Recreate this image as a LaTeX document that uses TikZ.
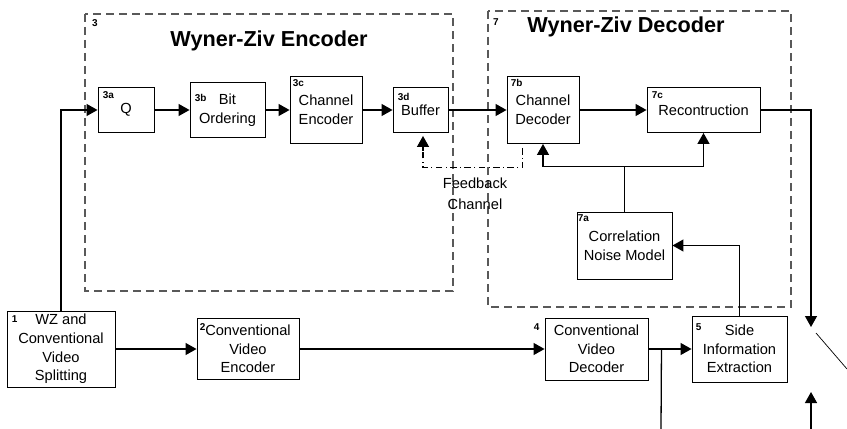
\documentclass[tikz,border=0pt]{standalone}
\usepackage{fontspec}
\setmainfont{Liberation Sans}
\usetikzlibrary{arrows.meta,calc}

\begin{document}
\begin{tikzpicture}[x=0.03cm,y=-0.03cm,
	wh/.style 2 args={minimum width=#1*0.03cm,minimum height=#2*0.03cm},
	blk/.style={draw,line width=0.8pt,align=center,inner sep=1pt,
		font=\fontsize{12.5}{16}\selectfont},
	tag/.style={anchor=north west,inner sep=0pt,font=\fontsize{8.5}{9}\selectfont\bfseries},
	ttl/.style={font=\fontsize{18.5}{20}\selectfont\bfseries},
	arr/.style={line width=1.1pt,-{Triangle[length=0.33cm,width=0.36cm]}},
	frame/.style={draw=black!65,line width=0.9pt,dash pattern=on 0.24cm off 0.15cm},
	fb/.style={line width=0.9pt,dash pattern=on 0.2cm off 0.1cm on 0.03cm off 0.1cm}]
\useasboundingbox (0,0) rectangle (847,429);
% encoder / decoder frames
\draw[frame] (85,14) rectangle (453,291);
\draw[frame] (488,11) rectangle (791,307);
\node[tag] (t3) at (92,19) {3};
\node[tag] (t7) at (493,18) {7};
\node[ttl] (enctitle) at (269,41) {Wyner-Ziv Encoder};
\node[ttl] (dectitle) at (626,27) {Wyner-Ziv Decoder};

% blocks
\node[blk,wh={108}{76}] (split) at (61,349) {WZ and\\Conventional\\Video\\Splitting};
\node[blk,wh={56}{45}] (q) at (126,110) {Q};
\node[blk,wh={75}{55}] (bitord) at (227.5,110) {Bit\\Ordering};
\node[blk,wh={72}{67}] (chenc) at (326,110) {Channel\\Encoder};
\node[blk,wh={55}{45}] (buffer) at (420.5,110) {Buffer};
\node[blk,wh={72}{67}] (chdec) at (543,110) {Channel\\Decoder};
\node[blk,wh={113}{45}] (recon) at (703.5,110) {Recontruction};
\node[blk,wh={95}{67}] (cnm) at (624.5,245.5) {Correlation\\Noise Model};
\node[blk,wh={102}{61}] (cvenc) at (248,349) {Conventional\\Video\\Encoder};
\node[blk,wh={103}{62}] (cvdec) at (596.5,349) {Conventional\\Video\\Decoder};
\node[blk,wh={95}{66}] (sie) at (739.5,349) {Side\\Information\\Extraction};

% block numbers
\node[tag] (t1) at ($(split.north west)+(5,5)$) {1};
\node[tag] (t2) at ($(cvenc.north west)+(3,5)$) {2};
\node[tag] (t3a) at ($(q.north west)+(5,4)$) {3a};
\node[tag] (t3b) at ($(bitord.north west)+(5,12)$) {3b};
\node[tag] (t3c) at ($(chenc.north west)+(3,3)$) {3c};
\node[tag] (t3d) at ($(buffer.north west)+(5,6)$) {3d};
\node[tag] (t4) at ($(cvdec.north west)+(-11,6)$) {4};
\node[tag] (t5) at ($(sie.north west)+(4,8)$) {5};
\node[tag] (t7a) at ($(cnm.north west)+(1,3)$) {7a};
\node[tag] (t7b) at ($(chdec.north west)+(4,3)$) {7b};
\node[tag] (t7c) at ($(recon.north west)+(5,4)$) {7c};

% WZ path
\draw[arr] (split.north) |- (q.west);
\draw[arr] (q) -- (bitord);
\draw[arr] (bitord) -- (chenc);
\draw[arr] (chenc) -- (buffer);
\draw[arr] (buffer) -- (chdec);
\draw[arr] (chdec) -- (recon);

% feedback (dash-dot line, solid tip)
\coordinate (fbtop) at ($(chdec.south west)+(16,4)$);
\coordinate (fbend) at ($(buffer.south)+(2.5,18)$);
\coordinate (fbtip) at ($(buffer.south)+(2.5,3)$);
\draw[fb] (fbtop) -- ++(0,20) -| (fbend);
\draw[arr] (fbend) -- (fbtip);
\node[align=center,font=\fontsize{12.5}{18}\selectfont] (fblabel) at (475,194) {Feedback\\Channel};

% side information
\coordinate (junc) at ($(cnm.north)+(0,-45)$);
\draw[line width=1.1pt] (cnm.north) -- (junc);
\draw[arr] (junc) -| (chdec.south);
\draw[arr] (junc) -| (recon.south);
\draw[arr] (sie.north) |- (cnm.east);

% conventional path
\draw[arr] (split) -- (cvenc);
\draw[arr] (cvenc) -- (cvdec);
\draw[arr] (cvdec) -- (sie);
\coordinate (brk) at ($(cvdec.east)+(13,0)$);
\coordinate (cvout) at (661,429);
\draw[line width=1.1pt] (brk) -- (cvout);

% output switch
\coordinate (swtop) at (811,327);
\coordinate (swbot) at (811,392);
\coordinate (swa) at (816,333);
\coordinate (swb) at (847,369);
\coordinate (wzout) at (811,429);
\draw[arr] (recon.east) -| (swtop);
\draw[line width=0.6pt] (swa) -- (swb);
\draw[arr] (wzout) -- (swbot);
\end{tikzpicture}
\end{document}
